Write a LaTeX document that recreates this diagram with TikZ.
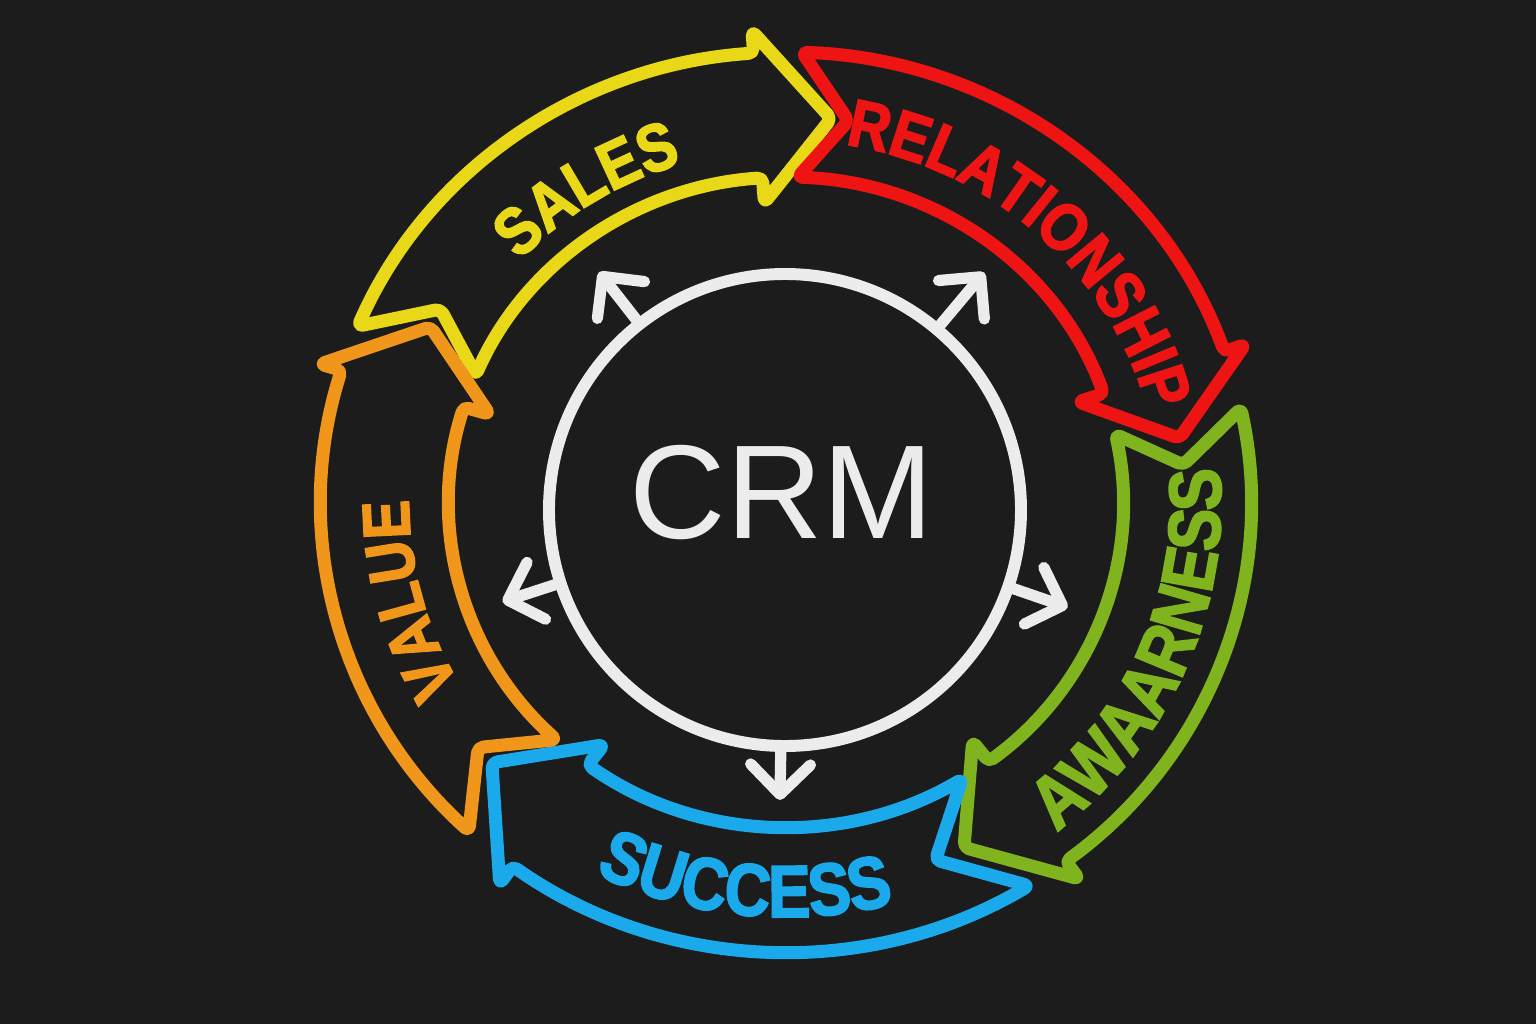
\documentclass[tikz,border=0pt]{standalone}
\usepackage{fontspec}
\usetikzlibrary{arrows.meta,decorations.text}
\newfontfamily\chalk{Liberation Sans}[UprightFont=* Bold,BoldFont=* Bold,FakeStretch=0.86,FakeBold=2.5]
\newfontfamily\chalkplain{Liberation Sans}
\definecolor{board}{RGB}{28,28,28}
\definecolor{chalkw}{RGB}{236,236,236}
\definecolor{salesc}{RGB}{232,216,24}
\definecolor{relc}{RGB}{238,20,20}
\definecolor{awarc}{RGB}{128,180,30}
\definecolor{succc}{RGB}{26,170,235}
\definecolor{valc}{RGB}{240,150,26}
\newcommand\bandfont{\chalk\bfseries\fontsize{19pt}{19pt}\selectfont}
\newcommand\bandfontbig{\chalk\bfseries\fontsize{21pt}{21pt}\selectfont}
\newcommand\crmfont{\chalkplain\fontsize{38pt}{38pt}\selectfont}
% band arrow on the ring: colour, tail, notch, head base, tip
\newcommand\ringarrow[5]{%
  \draw[band,#1] (#2:4.65 and 4.50) arc[start angle=#2,end angle=#4,x radius=4.65,y radius=4.50]
    -- (#4:4.87 and 4.72) -- (#5:3.99 and 3.86) -- (#4:3.10 and 3.00) -- (#4:3.37 and 3.25)
    arc[start angle=#4,end angle=#2,x radius=3.37,y radius=3.25] -- (#3:3.99 and 3.86) -- cycle;}
\begin{document}
\begin{tikzpicture}[
  band/.style={line width=3.7pt,line join=round,rounded corners=1.5pt},
  spoke/.style={chalkw,line width=3.2pt,line cap=round,-{Straight Barb[length=8.5pt,width=17pt,round]}},
  lab/.style={decorate,decoration={text along path,text align=center,text color=#1}}]
\useasboundingbox (-7.86,-5.22) rectangle (7.50,5.02);
\fill[board] (-7.86,-5.22) rectangle (7.50,5.02);

\ringarrow{salesc}{157}{150}{94}{83.5}
\ringarrow{relc}{88}{81}{19.5}{9.5}
\ringarrow{awarc}{12}{5.5}{-53}{-63.5}
\ringarrow{succc}{-58.5}{-68}{-126}{-137.5}
\ringarrow{valc}{227}{219.5}{163}{153}

\path[lab=salesc,decoration={text={|\bandfont|SALES}}]
  (162:3.65 and 3.53) arc[start angle=162,end angle=82,x radius=3.65,y radius=3.53];
\path[lab=relc,decoration={text={|\bandfont|RELATIONSHIP}}]
  (97.4:3.74 and 3.62) arc[start angle=97.4,end angle=-2.6,x radius=3.74,y radius=3.62];
\path[lab=awarc,decoration={text={|\bandfontbig|AWAARNESS}}]
  (-73.2:4.35 and 4.21) arc[start angle=-73.2,end angle=26.8,x radius=4.35,y radius=4.21];
\path[lab=succc,decoration={text={|\bandfontbig|SUCCESS}}]
  (-146:4.29 and 4.15) arc[start angle=-146,end angle=-46,x radius=4.29,y radius=4.15];
\path[lab=valc,decoration={text={|\bandfont|VALUE}}]
  (234.7:3.77 and 3.65) arc[start angle=234.7,end angle=154.7,x radius=3.77,y radius=3.65];

\node[circle,draw=chalkw,line width=3.4pt,minimum size=4.72cm,inner sep=0pt] (hub) at (-0.01,-0.08) {};
\node[text=chalkw,font=\crmfont,inner sep=0pt] (crm) at (-0.04,0.09) {CRM};

\coordinate (tl) at ([shift={(128:3.02)}]hub.center);
\coordinate (tr) at ([shift={(50:3.10)}]hub.center);
\coordinate (lf) at ([shift={(198:2.97)}]hub.center);
\coordinate (rt) at ([shift={(-19:2.99)}]hub.center);
\coordinate (bt) at ([shift={(-91:2.90)}]hub.center);
\draw[spoke] (hub.128) -- (tl);
\draw[spoke] (hub.50) -- (tr);
\draw[spoke] (hub.198) -- (lf);
\draw[spoke] (hub.-19) -- (rt);
\draw[spoke] (hub.-91) -- (bt);
\end{tikzpicture}
\end{document}
